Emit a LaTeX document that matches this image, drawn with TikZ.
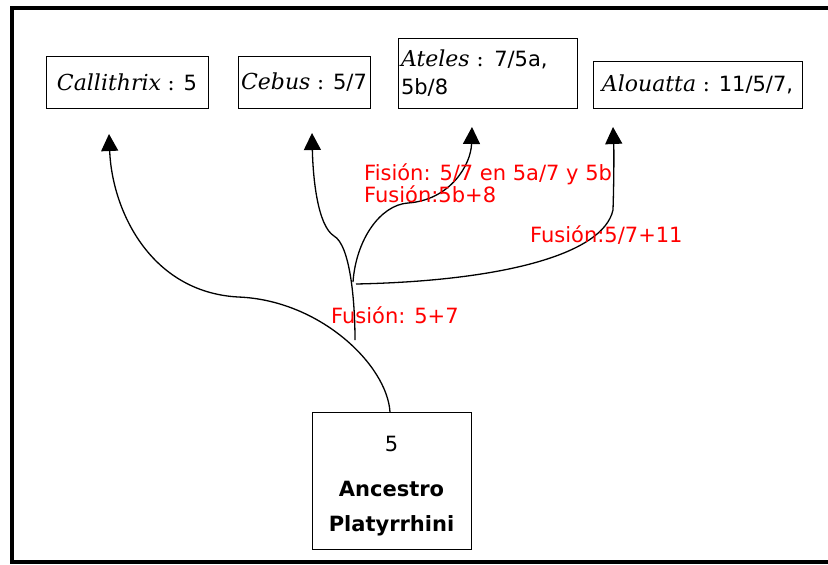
\documentclass[tikz,border=0pt]{standalone}
\usepackage{fontspec}
\setmainfont{DejaVu Sans}
\newfontfamily\spfont{DejaVu Serif}
\usetikzlibrary{arrows.meta}
\begin{document}
\begin{tikzpicture}[x=1pt,y=-1pt,
  box/.style={draw, line width=0.8pt, inner sep=2pt, font=\fontsize{21}{25}\selectfont},
  branch/.style={line width=1.3pt, -{Triangle[width=17pt,length=17pt]}},
  lab/.style={text=red, anchor=west, inner sep=0pt, font=\fontsize{21}{22}\selectfont, align=left},
  frame/.style={line width=4pt}]
\useasboundingbox (0,0) rectangle (828,565);
\clip (0,0) rectangle (828,565);
\draw[frame] (840,8) -- (12,8) -- (12,562) -- (840,562);

% boxes
\node[box, minimum width=162pt, minimum height=52pt] (cal) at (127,82)
  {{\spfont\itshape\fontsize{22}{25}\selectfont Callithrix} {\spfont:} 5};
\node[box, minimum width=132pt, minimum height=52pt] (ceb) at (304,82)
  {{\spfont\itshape\fontsize{22}{25}\selectfont Cebus} {\spfont:} 5/7};
\node[box, minimum width=179pt, minimum height=70pt, text width=173pt, align=left,
  font=\fontsize{21}{28}\selectfont] (ate) at (487.5,73)
  {{\spfont\itshape\fontsize{22}{28}\selectfont Ateles} {\spfont:} 7/5a,\\5b/8};
\node[box, minimum width=209pt, minimum height=47pt] (alo) at (697.5,84.5)
  {{\spfont\itshape\fontsize{22}{25}\selectfont Alouatta} {\spfont:} 11/5/7,};
\node[box, minimum width=159pt, minimum height=137pt, align=center,
  font=\fontsize{21}{35}\selectfont] (anc) at (391.5,480.5)
  {\rule{0pt}{26pt}5\\[10pt]\textbf{Ancestro}\\\textbf{Platyrrhini}};

% tips and junctions
\coordinate (tcal) at (109,134);
\coordinate (tceb) at (312,133);
\coordinate (tate) at (472,127);
\coordinate (talo) at (613,127);
\coordinate (root) at (390,412);
\coordinate (j1) at (355,340);
\coordinate (j2) at (353,282);
\coordinate (j3) at (356,284);

% branches
\draw[branch] (root) .. controls (387,365) and (320,300) .. (238,297)
  .. controls (150,292) and (112,210) .. (tcal);
\draw[branch] (j1) .. controls (355,300) and (350,245) .. (334,236)
  .. controls (318,226) and (313,180) .. (tceb);
\draw[branch] (j2) .. controls (356,240) and (380,205) .. (408,203)
  .. controls (450,200) and (471,165) .. (tate);
\draw[branch] (j3) .. controls (500,281) and (603,255) .. (613,210)
  .. controls (614,180) and (614,150) .. (talo);

% labels
\node[lab] (l1) at (364,183) {Fisión: 5/7 en 5a/7 y 5b\\Fusión:5b+8};
\node[lab] (l2) at (530,235) {Fusión:5/7+11};
\node[lab] (l3) at (331,315) {Fusión: 5+7};
\end{tikzpicture}
\end{document}
